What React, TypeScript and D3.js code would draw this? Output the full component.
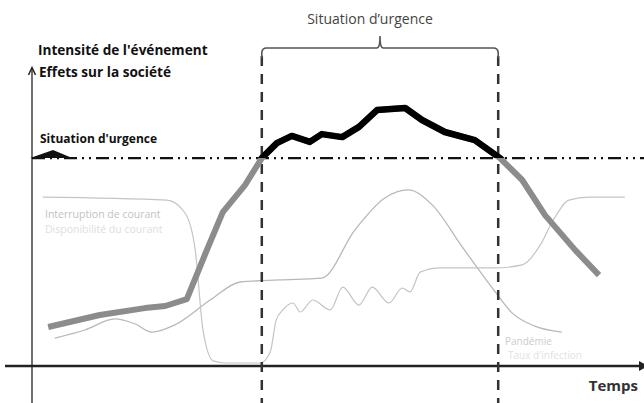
import React from 'react';
import * as d3 from 'd3';

// temps (0-100) et intensité (0-100)
const impactT = [2.7, 11.3, 18.8, 22.2, 25.8, 28.8, 31.8, 35.5, 38.3, 40.8, 43.3, 46.3, 48.3, 51.7, 54.5, 57.5, 62.2, 65, 68.8, 73.8, 78, 81.7, 85.5, 90.5, 94.5];
const impactV = [13, 17, 19.3, 20, 22.3, 37, 51.3, 60.3, 69.3, 74.3, 76.7, 74.7, 77.3, 76.3, 79.7, 85.3, 86, 82, 78, 75.3, 69.3, 62, 50.3, 38.7, 30.3];

const courantT = [1.8, 22.5, 25.5, 27.2, 28.5, 30.2, 32.2, 38, 39.7, 40.7, 41.8, 43.5, 44.7, 46.8, 49.7, 51.8, 54.5, 56.7, 59.5, 61.7, 63, 64.7, 68, 77.2, 81.7, 84.7, 86.7, 89.5, 92.8, 98.8];
const courantV = [56.3, 55.3, 51, 38.7, 12, 1.7, 1, 1, 4.7, 15.3, 18.7, 21, 18, 22, 18.7, 26.3, 20.3, 26.3, 21, 26, 24.7, 31.3, 32.7, 32.7, 33.7, 40.3, 48, 55.3, 56.3, 56.3];

const pandemieT = [3.8, 8.8, 13.8, 17.2, 20, 23.8, 29.7, 34.7, 41.3, 48.3, 53.8, 58.8, 62.7, 66.7, 71.7, 77.2, 80, 83.8, 88.3];
const pandemieV = [9.3, 12, 15.7, 14, 11.3, 13.7, 22, 28, 28.7, 29.3, 45.3, 56, 58.7, 53.7, 39.7, 24.7, 17.7, 13.3, 11.3];

const seuil = 69.3;
const debutUrgence = 38.3;
const finUrgence = 77.7;

const W = 644;
const H = 403;

const x = d3.scaleLinear().domain([0, 100]).range([32, 632]);
const y = d3.scaleLinear().domain([0, 100]).range([366, 66]);

const ligne = d3.line<[number, number]>()
  .x(d => x(d[0]))
  .y(d => y(d[1]))
  .curve(d3.curveMonotoneX);

const ligneDroite = d3.line<[number, number]>()
  .x(d => x(d[0]))
  .y(d => y(d[1]));

const pts = (t: number[], v: number[]) => t.map((d, i) => [d, v[i]] as [number, number]);

const police = "'Open Sans', 'DejaVu Sans', sans-serif";

export default function App() {
  const x0 = x(0);
  const y0 = y(0);
  const ySeuil = y(seuil);
  const xa = x(debutUrgence);
  const xb = x(finUrgence);
  const yAccolade = 48;
  const xMid = (xa + xb) / 2;
  const r = 5;
  const impact = ligneDroite(pts(impactT, impactV)) as string;

  return (
    <svg width={W} height={H} style={{ position: 'fixed', top: 0, left: 0, background: '#fff' }}>
      <defs>
        <clipPath id="dessus">
          <rect x={0} y={0} width={W} height={ySeuil} />
        </clipPath>
      </defs>

      {/* courbes fines */}
      <path d={ligne(pts(pandemieT, pandemieV)) as string} fill="none" stroke="#b8b8b8" strokeWidth={1.3} />
      <path d={ligne(pts(courantT, courantV)) as string} fill="none" stroke="#c4c4c4" strokeWidth={1.2} />

      <text x={45} y={218} fontFamily={police} fontSize={10.5} fill="#c2c2c2">Interruption de courant</text>
      <text x={45} y={233} fontFamily={police} fontSize={10.5} fill="#dedede">Disponibilité du courant</text>
      <text x={505} y={345} fontFamily={police} fontSize={10} fill="#cccccc">Pandémie</text>
      <text x={508} y={359} fontFamily={police} fontSize={10} fill="#e2e2e2">Taux d'infection</text>

      {/* axes */}
      <line x1={5} x2={x(101.5)} y1={y0} y2={y0} stroke="#222" strokeWidth={2.5} />
      <path d={`M${x(101.5) - 2},${y0 - 5} L${x(101.5) + 7},${y0} L${x(101.5) - 2},${y0 + 5} Z`} fill="#222" />
      <line x1={x0} x2={x0} y1={H} y2={y(99)} stroke="#222" strokeWidth={1.3} />
      <path d={`M${x0 - 3.5},${y(97)} L${x0},${y(99.5)} L${x0 + 3.5},${y(97)}`} fill="none" stroke="#222" strokeWidth={1.5} />

      {/* urgence */}
      <line x1={xa} x2={xa} y1={yAccolade + 8} y2={H} stroke="#333" strokeWidth={2.5} strokeDasharray="10,8" />
      <line x1={xb} x2={xb} y1={yAccolade + 8} y2={H} stroke="#333" strokeWidth={2.5} strokeDasharray="10,8" />
      <path
        d={`M${xa},${yAccolade + 10} L${xa},${yAccolade + r} Q${xa},${yAccolade} ${xa + r},${yAccolade} L${xMid - 3},${yAccolade} Q${xMid},${yAccolade} ${xMid},${yAccolade - 12} Q${xMid},${yAccolade} ${xMid + 3},${yAccolade} L${xb - r},${yAccolade} Q${xb},${yAccolade} ${xb},${yAccolade + r} L${xb},${yAccolade + 10}`}
        fill="none" stroke="#555" strokeWidth={1.6}
      />
      <text x={370} y={24} textAnchor="middle" fontFamily={police} fontSize={14} fill="#444">Situation d’urgence</text>

      {/* seuil */}
      <line x1={x0} x2={W} y1={ySeuil} y2={ySeuil} stroke="#111" strokeWidth={2.2} strokeDasharray="13,5,2,5,2,5" />
      <path d={`M${x(-0.3)},${ySeuil} L${x(3.5)},${ySeuil - 8} L${x(6.7)},${ySeuil} Z`} fill="#111" />
      <text x={40} y={143} fontFamily={police} fontSize={12} fontWeight="bold" fill="#111">Situation d'urgence</text>

      {/* impact */}
      <path d={impact} fill="none" stroke="#8c8c8c" strokeWidth={6} strokeLinejoin="round" />
      <path d={impact} fill="none" stroke="#000" strokeWidth={6.5} strokeLinejoin="round" clipPath="url(#dessus)" />

      {/* titres */}
      <text x={38} y={55} fontFamily={police} fontSize={13.6} fontWeight="bold" fill="#111">Intensité de l'événement</text>
      <text x={39} y={77} fontFamily={police} fontSize={13.6} fontWeight="bold" fill="#111">Effets sur la société</text>
      <text x={638} y={391} textAnchor="end" fontFamily={police} fontSize={15} fontWeight="bold" fill="#333">Temps</text>
    </svg>
  );
}
